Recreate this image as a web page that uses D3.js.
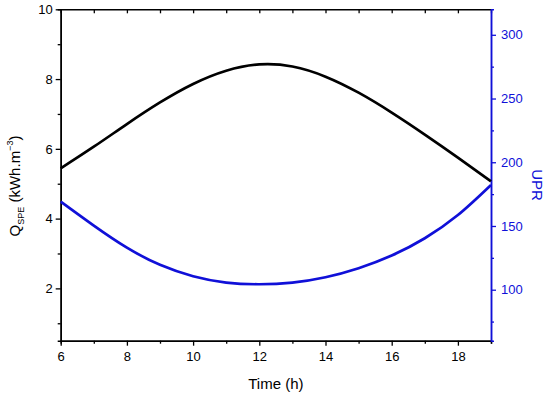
<!DOCTYPE html>
<html>
<head>
<meta charset="utf-8">
<script src="https://cdn.jsdelivr.net/npm/d3@7"></script>
<style>
  body { margin: 0; background: #fff; }
  text { font-family: "Liberation Sans", Arial, sans-serif; }
</style>
</head>
<body>
<div id="chart"></div>
<script>
// values
const hours = [6, 7, 8, 9, 10, 11, 12, 13, 14, 15, 16, 17, 18, 19];
const qspe  = [5.44, 6.06, 6.71, 7.33, 7.86, 8.24, 8.42, 8.36, 8.07, 7.61, 7.04, 6.41, 5.75, 5.07];
const upr   = [169.1, 150.3, 133.0, 119.5, 110.6, 105.6, 104.3, 105.6, 109.8, 116.9, 126.8, 140.4, 158.6, 182.2];
const xTicks = [6, 8, 10, 12, 14, 16, 18];
const xMinor = [7, 9, 11, 13, 15, 17, 19];
const leftTicks = [2, 4, 6, 8, 10];
const leftMinor = [1, 3, 5, 7, 9];
const rightTicks = [100, 150, 200, 250, 300];
const rightMinor = [75, 125, 175, 225, 275];

const W = 550, H = 395;
const m = {top: 9.3, right: 59, bottom: 54.3, left: 60.7};
const BLUE = "#1010d8";

const svg = d3.select("#chart").append("svg")
  .attr("width", W).attr("height", H);

const x = d3.scaleLinear().domain([6, 19]).range([m.left, W - m.right]);
const yL = d3.scaleLinear().domain([0.5, 10]).range([H - m.bottom, m.top]);
const yR = d3.scaleLinear().domain([60, 320]).range([H - m.bottom, m.top]);

function styleAxis(g, color) {
  g.selectAll("path").attr("stroke", color).attr("stroke-width", 1.5);
  g.selectAll("line").attr("stroke", color).attr("stroke-width", 1.3);
  g.selectAll("text").attr("fill", color).style("font-size", "13px");
}

// bottom axis
const gx = svg.append("g").attr("transform", `translate(0,${H - m.bottom})`);
gx.append("g").call(d3.axisBottom(x).tickValues(xMinor).tickSize(3).tickFormat(""))
  .call(g => styleAxis(g, "#000"));
gx.append("g").call(d3.axisBottom(x).tickValues(xTicks).tickSize(5).tickPadding(6).tickSizeOuter(0))
  .call(g => styleAxis(g, "#000"));

// top axis, ticks pointing inward
const gt = svg.append("g").attr("transform", `translate(0,${m.top})`);
gt.append("g").call(d3.axisTop(x).tickValues(xTicks.concat(xMinor)).tickSize(-4).tickSizeOuter(0).tickFormat(""))
  .call(g => styleAxis(g, "#000"));

// left axis
const gl = svg.append("g").attr("transform", `translate(${m.left},0)`);
gl.append("g").call(d3.axisLeft(yL).tickValues(leftMinor).tickSize(3).tickFormat(""))
  .call(g => styleAxis(g, "#000"));
gl.append("g").call(d3.axisLeft(yL).tickValues(leftTicks).tickSize(5).tickPadding(3).tickSizeOuter(0))
  .call(g => styleAxis(g, "#000"));

// right axis
const gr = svg.append("g").attr("transform", `translate(${W - m.right},0)`);
gr.append("g").call(d3.axisRight(yR).tickValues(rightMinor).tickSize(3).tickFormat(""))
  .call(g => styleAxis(g, BLUE));
gr.append("g").call(d3.axisRight(yR).tickValues(rightTicks).tickSize(5).tickPadding(5).tickSizeOuter(0))
  .call(g => styleAxis(g, BLUE));

// curves
const lineQ = d3.line().x((d, i) => x(hours[i])).y(d => yL(d)).curve(d3.curveNatural);
const lineU = d3.line().x((d, i) => x(hours[i])).y(d => yR(d)).curve(d3.curveNatural);

svg.append("path").datum(qspe)
  .attr("fill", "none").attr("stroke", "#000").attr("stroke-width", 2.7)
  .attr("d", lineQ);

svg.append("path").datum(upr)
  .attr("fill", "none").attr("stroke", BLUE).attr("stroke-width", 2.7)
  .attr("d", lineU);

// axis titles
svg.append("text")
  .attr("x", (m.left + W - m.right) / 2).attr("y", 389)
  .attr("text-anchor", "middle").style("font-size", "15px")
  .text("Time (h)");

const yt = svg.append("text")
  .attr("transform", "translate(20,186) rotate(-90)")
  .attr("text-anchor", "middle").style("font-size", "15px");
yt.append("tspan").text("Q");
yt.append("tspan").attr("dy", 4).style("font-size", "9px").text("SPE");
yt.append("tspan").attr("dy", -4).text(" (kWh.m");
yt.append("tspan").attr("dy", -7).style("font-size", "9px").text("\u22123");
yt.append("tspan").attr("dy", 7).text(")");

svg.append("text")
  .attr("transform", "translate(532,185) rotate(90)")
  .attr("text-anchor", "middle").style("font-size", "15px")
  .attr("fill", BLUE)
  .text("UPR");
</script>
</body>
</html>
